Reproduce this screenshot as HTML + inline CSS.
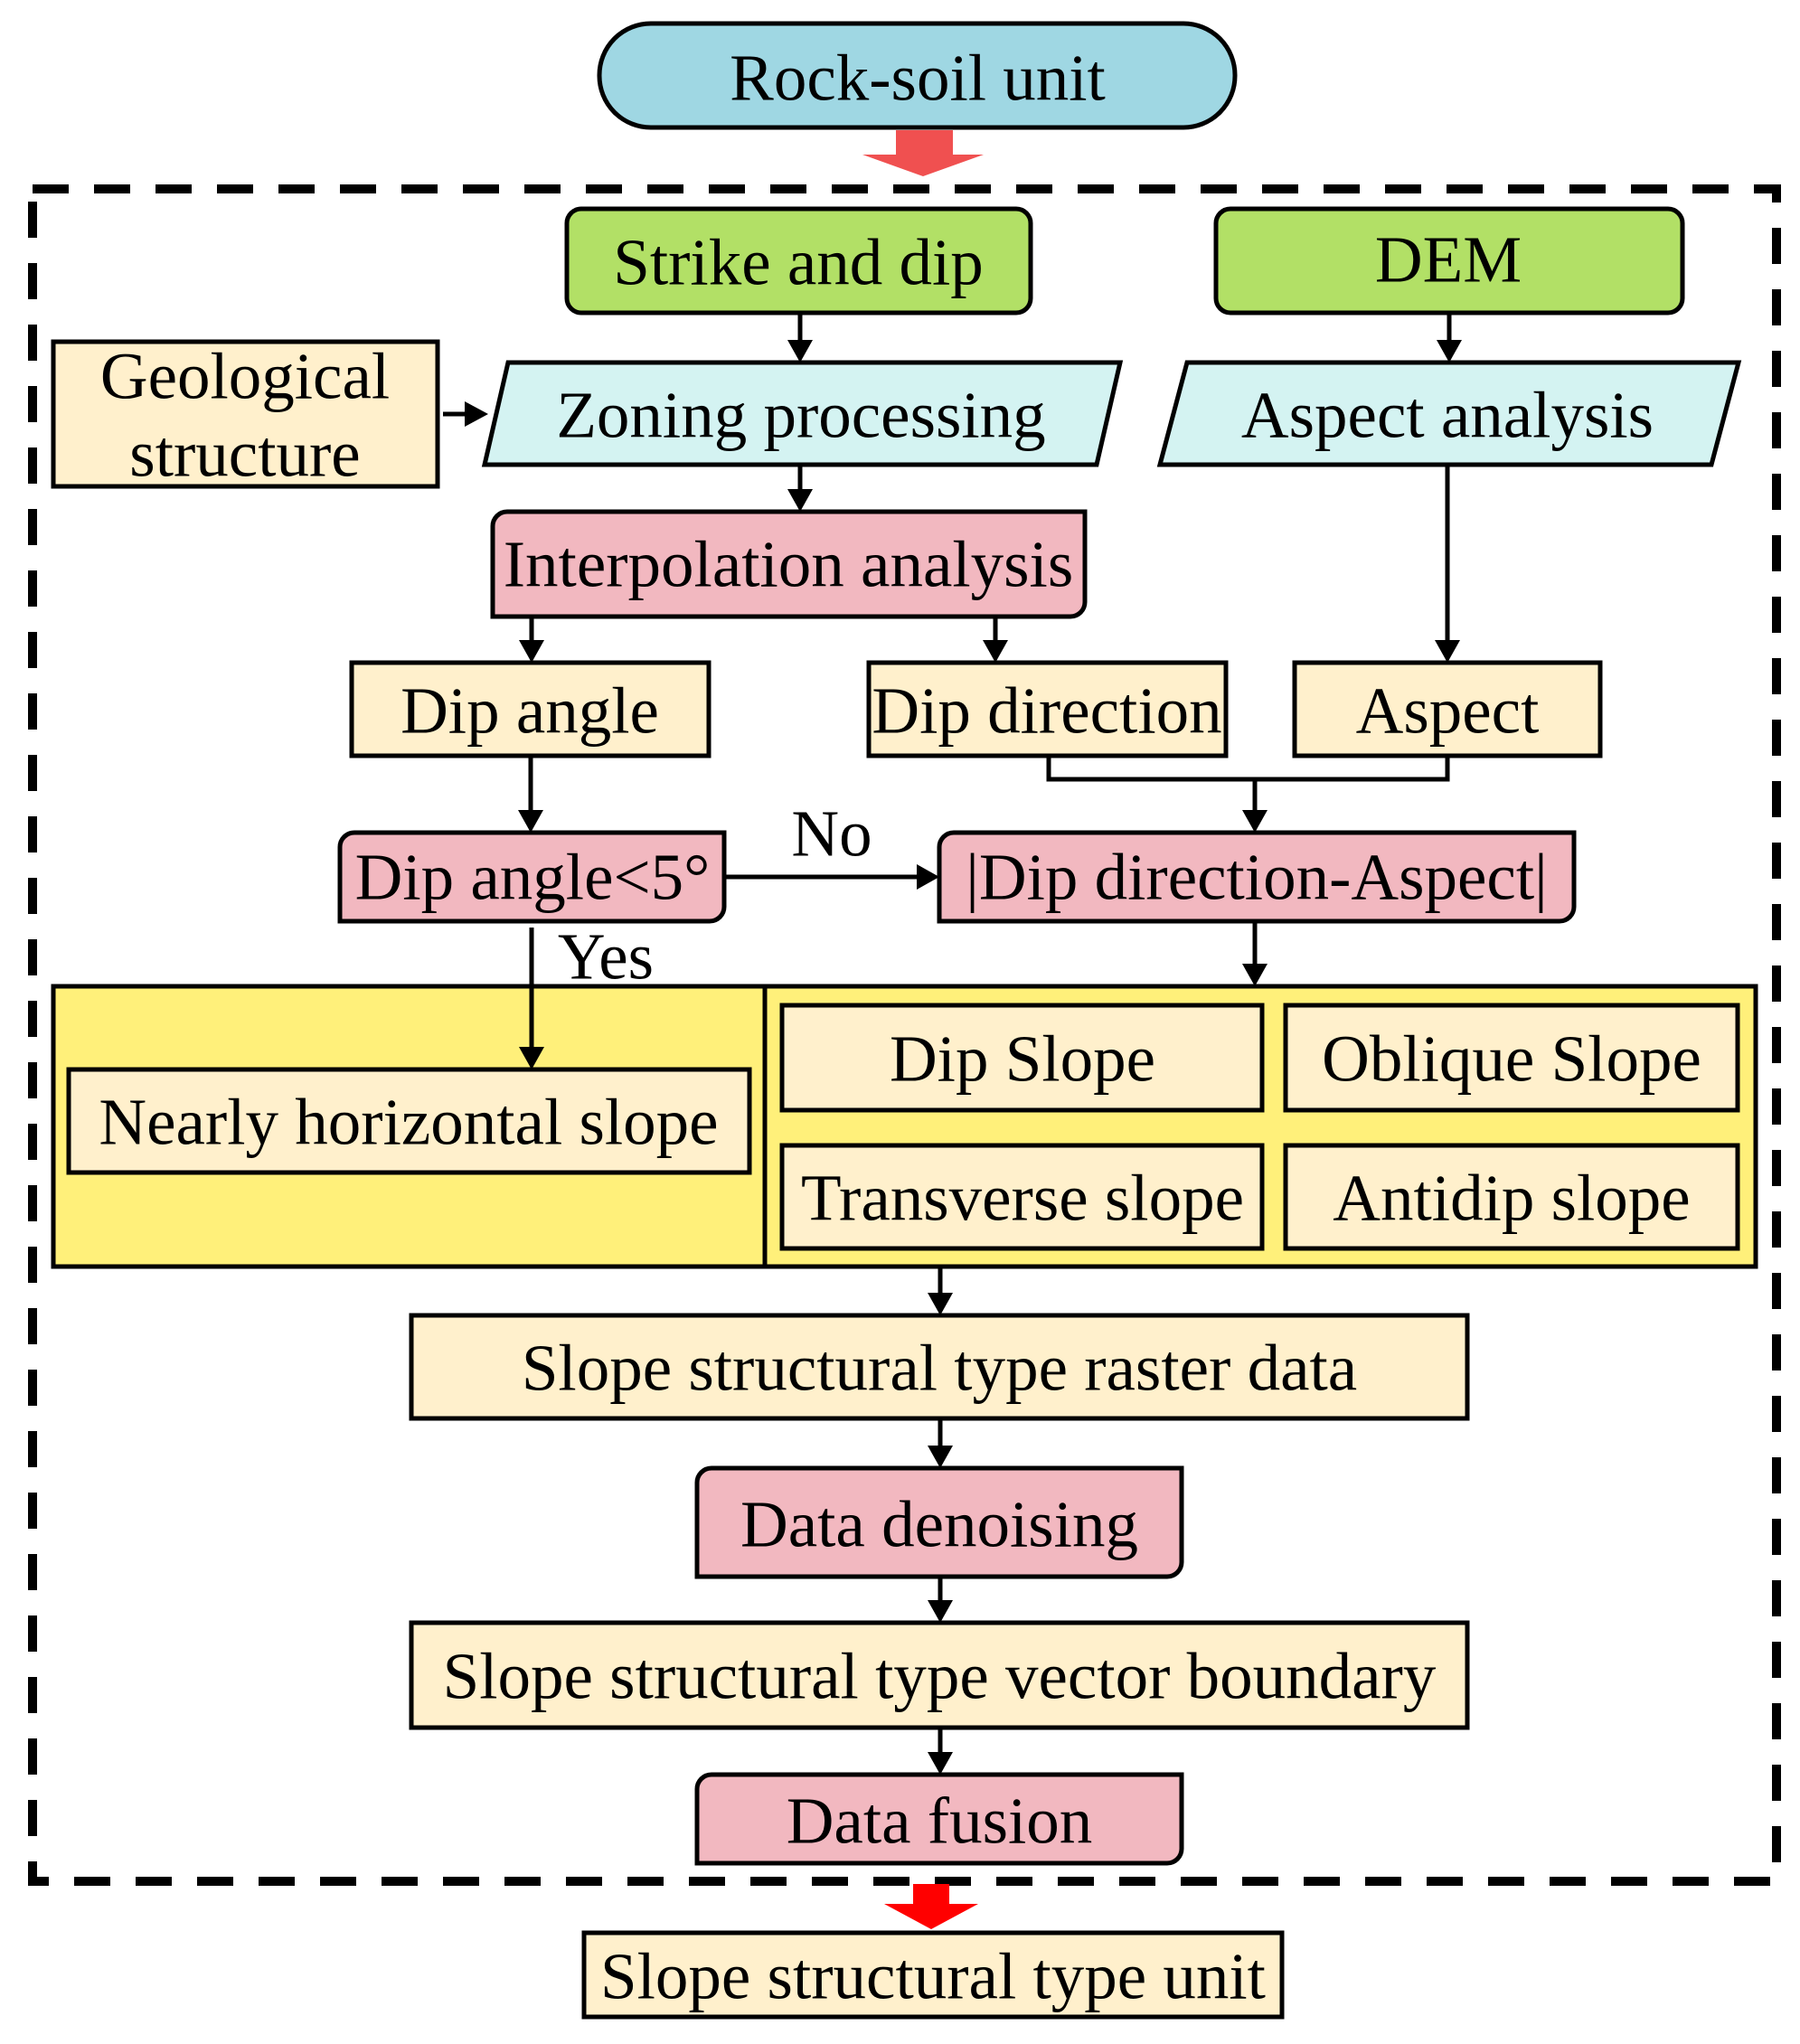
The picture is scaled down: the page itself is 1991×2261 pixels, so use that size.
<!DOCTYPE html>
<html><head><meta charset="utf-8"><style>
html,body{margin:0;padding:0;background:#fff;}
svg{display:block;}
text{font-family:"Liberation Serif","Times New Roman",serif;font-size:73px;fill:#000;text-anchor:middle;dominant-baseline:central;}
</style></head><body>
<svg width="1991" height="2261" viewBox="0 0 1991 2261" xmlns="http://www.w3.org/2000/svg">
<g stroke="#000" stroke-width="5">
<rect x="663" y="26" width="703" height="115" rx="57" fill="#9fd7e3"/>
<rect x="36" y="209" width="1929" height="1872" fill="none" stroke-width="10" stroke-dasharray="40 28"/>
<rect x="627" y="231" width="513" height="115" rx="16" fill="#b2e066"/>
<rect x="1345" y="231" width="516" height="115" rx="16" fill="#b2e066"/>
<rect x="59" y="378" width="425" height="160" fill="#fff0cc"/>
<polygon points="562,401 1239,401 1213,514 536,514" fill="#d4f3f2"/>
<polygon points="1313,401 1923,401 1893,514 1283,514" fill="#d4f3f2"/>
<path d="M561,566 H1200 V666 a16,16 0 0 1 -16,16 H545 V582 a16,16 0 0 1 16,-16 Z" fill="#f2b8c0"/>
<rect x="389" y="733" width="395" height="103" fill="#fff0cc"/>
<rect x="961" y="733" width="395" height="103" fill="#fff0cc"/>
<rect x="1432" y="733" width="338" height="103" fill="#fff0cc"/>
<path d="M392,921 H801 V1003 a16,16 0 0 1 -16,16 H376 V937 a16,16 0 0 1 16,-16 Z" fill="#f2b8c0"/>
<path d="M1055,921 H1741 V1003 a16,16 0 0 1 -16,16 H1039 V937 a16,16 0 0 1 16,-16 Z" fill="#f2b8c0"/>
<rect x="59" y="1091" width="1883" height="310" fill="#fff07a"/>
<line x1="846" y1="1091" x2="846" y2="1401"/>
<rect x="76" y="1183" width="753" height="114" fill="#fff0cc"/>
<rect x="865" y="1112" width="531" height="116" fill="#fff0cc"/>
<rect x="1422" y="1112" width="500" height="116" fill="#fff0cc"/>
<rect x="865" y="1267" width="531" height="114" fill="#fff0cc"/>
<rect x="1422" y="1267" width="500" height="114" fill="#fff0cc"/>
<rect x="455" y="1455" width="1168" height="114" fill="#fff0cc"/>
<path d="M787,1624 H1307 V1728 a16,16 0 0 1 -16,16 H771 V1640 a16,16 0 0 1 16,-16 Z" fill="#f2b8c0"/>
<rect x="455" y="1795" width="1168" height="116" fill="#fff0cc"/>
<path d="M787,1963 H1307 V2045 a16,16 0 0 1 -16,16 H771 V1979 a16,16 0 0 1 16,-16 Z" fill="#f2b8c0"/>
<rect x="646" y="2138" width="772" height="93" fill="#fff0cc"/>
</g>
<polygon points="991,144 1054,144 1054,171 1088,171 1021,195 954,171 991,171" fill="#f05050"/>
<polygon points="1010,2084 1050,2084 1050,2106 1082,2106 1030,2134 978,2106 1010,2106" fill="#ff0000"/>
<g stroke="#000" stroke-width="5" fill="none">
<line x1="885" y1="346" x2="885" y2="384"/>
<line x1="1603" y1="346" x2="1603" y2="384"/>
<line x1="490" y1="458" x2="524" y2="458"/>
<line x1="885" y1="514" x2="885" y2="549"/>
<line x1="588" y1="682" x2="588" y2="716"/>
<line x1="1101" y1="682" x2="1101" y2="716"/>
<line x1="1601" y1="514" x2="1601" y2="716"/>
<line x1="587" y1="836" x2="587" y2="904"/>
<polyline points="1160,836 1160,862 1601,862 1601,836"/>
<line x1="1388" y1="862" x2="1388" y2="904"/>
<line x1="801" y1="970" x2="1022" y2="970"/>
<line x1="588" y1="1026" x2="588" y2="1166"/>
<line x1="1388" y1="1019" x2="1388" y2="1074"/>
<line x1="1040" y1="1401" x2="1040" y2="1438"/>
<line x1="1040" y1="1569" x2="1040" y2="1607"/>
<line x1="1040" y1="1744" x2="1040" y2="1778"/>
<line x1="1040" y1="1911" x2="1040" y2="1946"/>
</g>
<g fill="#000">
<polygon points="871,376 899,376 885,401"/>
<polygon points="1589,376 1617,376 1603,401"/>
<polygon points="514,444 514,472 540,458"/>
<polygon points="871,541 899,541 885,566"/>
<polygon points="574,708 602,708 588,733"/>
<polygon points="1087,708 1115,708 1101,733"/>
<polygon points="1587,708 1615,708 1601,733"/>
<polygon points="573,896 601,896 587,921"/>
<polygon points="1374,896 1402,896 1388,921"/>
<polygon points="1014,956 1014,984 1039,970"/>
<polygon points="574,1158 602,1158 588,1183"/>
<polygon points="1374,1066 1402,1066 1388,1091"/>
<polygon points="1026,1430 1054,1430 1040,1455"/>
<polygon points="1026,1599 1054,1599 1040,1624"/>
<polygon points="1026,1770 1054,1770 1040,1795"/>
<polygon points="1026,1938 1054,1938 1040,1963"/>
</g>
<text x="1015" y="86">Rock-soil unit</text>
<text x="883" y="290">Strike and dip</text>
<text x="1602" y="287">DEM</text>
<text x="271" y="416">Geological</text>
<text x="271" y="502">structure</text>
<text x="886" y="459">Zoning processing</text>
<text x="1601" y="459">Aspect analysis</text>
<text x="872" y="624">Interpolation analysis</text>
<text x="586" y="786">Dip angle</text>
<text x="1158" y="786">Dip direction</text>
<text x="1601" y="786">Aspect</text>
<text x="589" y="970">Dip angle&lt;5°</text>
<text x="1390" y="970">|Dip direction-Aspect|</text>
<text x="920" y="922">No</text>
<text x="670" y="1058">Yes</text>
<text x="452" y="1241">Nearly horizontal slope</text>
<text x="1131" y="1171">Dip Slope</text>
<text x="1672" y="1171">Oblique Slope</text>
<text x="1131" y="1325">Transverse slope</text>
<text x="1672" y="1325">Antidip slope</text>
<text x="1039" y="1513">Slope structural type raster data</text>
<text x="1039" y="1686">Data denoising</text>
<text x="1039" y="1854">Slope structural type vector boundary</text>
<text x="1039" y="2014">Data fusion</text>
<text x="1032" y="2186">Slope structural type unit</text>
</svg>
</body></html>
